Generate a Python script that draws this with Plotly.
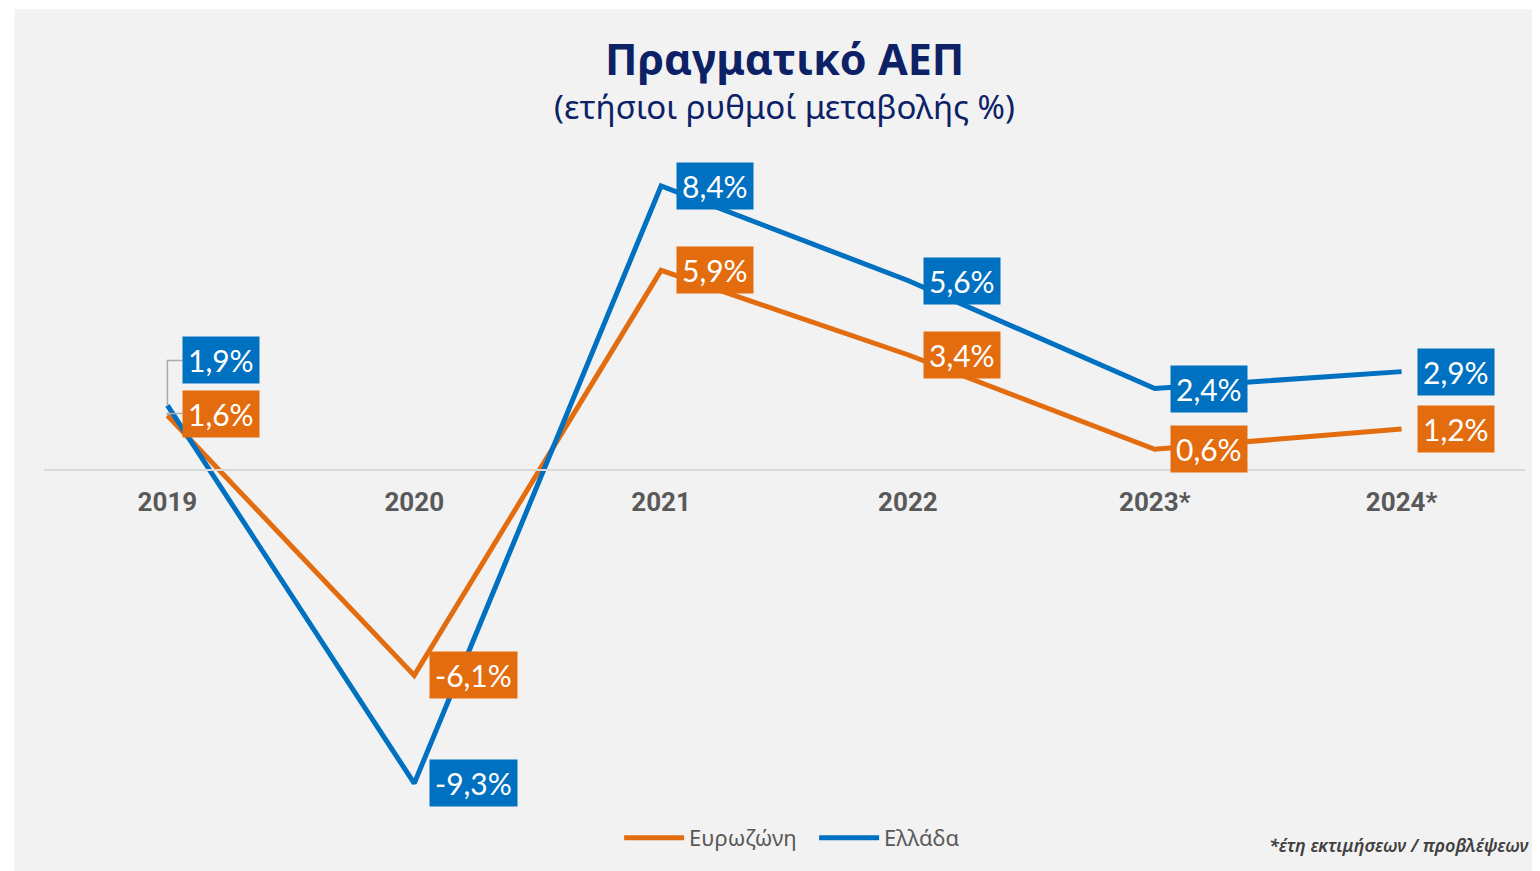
import plotly.graph_objects as go

years = ["2019", "2020", "2021", "2022", "2023*", "2024*"]
eurozone = [1.6, -6.1, 5.9, 3.4, 0.6, 1.2]
greece = [1.9, -9.3, 8.4, 5.6, 2.4, 2.9]
series_names = ["Ευρωζώνη", "Ελλάδα"]
title_text = "Πραγματικό ΑΕΠ"
subtitle_text = "(ετήσιοι ρυθμοί μεταβολής %)"
footnote_text = "*έτη εκτιμήσεων / προβλέψεων"

ORANGE = "#E36C0E"
BLUE = "#0070C0"
NAVY = "#0D2167"
GREY_TXT = "#595959"

fig = go.Figure()
fig.add_trace(go.Scatter(x=years, y=eurozone, mode="lines", name=series_names[0],
                         line=dict(color=ORANGE, width=5), hoverinfo="x+y"))
fig.add_trace(go.Scatter(x=years, y=greece, mode="lines", name=series_names[1],
                         line=dict(color=BLUE, width=5), hoverinfo="x+y"))

def fmt(v):
    return f"{v:.1f}".replace(".", ",") + "%"

annotations = []
shapes = []
label_font = dict(family="Lato, Noto Sans, sans-serif", size=30, color="white")

for i, (e, g) in enumerate(zip(eurozone, greece)):
    if i == 0:
        annotations.append(dict(x=i, y=g, text=fmt(g), showarrow=False, xanchor="left",
                                yanchor="middle", xshift=15, yshift=45, bgcolor=BLUE,
                                borderpad=5, font=label_font))
        annotations.append(dict(x=i, y=e, text=fmt(e), showarrow=False, xanchor="left",
                                yanchor="middle", xshift=15, yshift=2, bgcolor=ORANGE,
                                borderpad=5, font=label_font))
        shapes.append(dict(type="path", xref="x", yref="y", xsizemode="pixel", ysizemode="pixel",
                           xanchor=i, yanchor=g, path="M0,0 L0,45 L15,45",
                           line=dict(color="#ABABAB", width=1.5)))
        shapes.append(dict(type="path", xref="x", yref="y", xsizemode="pixel", ysizemode="pixel",
                           xanchor=i, yanchor=e, path="M0,0 L0,2 L15,2",
                           line=dict(color="#ABABAB", width=1.5)))
    else:
        annotations.append(dict(x=i, y=g, text=fmt(g), showarrow=False, xanchor="left",
                                yanchor="middle", xshift=15, bgcolor=BLUE, borderpad=5,
                                font=label_font))
        annotations.append(dict(x=i, y=e, text=fmt(e), showarrow=False, xanchor="left",
                                yanchor="middle", xshift=15, bgcolor=ORANGE, borderpad=5,
                                font=label_font))

# background panel
shapes.insert(0, dict(type="rect", xref="paper", yref="paper", x0=-0.0199, x1=1.02,
                      y0=-0.2, y1=1.182, fillcolor="#F2F2F2", line=dict(width=0), layer="below"))

annotations.append(dict(xref="paper", yref="paper", x=0.5, y=1.109, text=f"<b>{title_text}</b>",
                        showarrow=False, xanchor="center", yanchor="middle",
                        font=dict(family="Noto Sans, sans-serif", size=43, color=NAVY)))
annotations.append(dict(xref="paper", yref="paper", x=0.5, y=1.038, text=subtitle_text,
                        showarrow=False, xanchor="center", yanchor="middle",
                        font=dict(family="Noto Sans, sans-serif", size=33, color=NAVY)))
annotations.append(dict(xref="paper", yref="paper", x=1.0044, y=-0.057, text=f"<i>{footnote_text}</i>",
                        showarrow=False, xanchor="right", yanchor="middle",
                        font=dict(family="Noto Sans, sans-serif", size=18, color="#404040",
                                  weight=600)))

fig.update_layout(
    width=1532, height=863,
    margin=dict(l=35.5, r=14.5, t=124, b=55),
    paper_bgcolor="white", plot_bgcolor="rgba(0,0,0,0)",
    showlegend=True,
    legend=dict(orientation="h", x=0.52, xanchor="center", y=-0.046, yanchor="middle",
                font=dict(family="Noto Sans, sans-serif", size=22, color=GREY_TXT),
                bgcolor="rgba(0,0,0,0)", itemwidth=60, entrywidth=120,
                entrywidthmode="pixels"),
    annotations=annotations,
    shapes=shapes,
)
fig.update_xaxes(type="category", range=[-0.5, 5.5], anchor="free", position=0.5,
                 showline=True, linecolor="#D9D9D9", linewidth=1.5, showgrid=False,
                 ticks="", ticklabelstandoff=10, zeroline=False,
                 tickfont=dict(family="Roboto, sans-serif", size=26, color=GREY_TXT, weight="bold"))
fig.update_yaxes(range=[-10, 10], visible=False, showgrid=False, zeroline=False)

fig.write_html("out.html")
